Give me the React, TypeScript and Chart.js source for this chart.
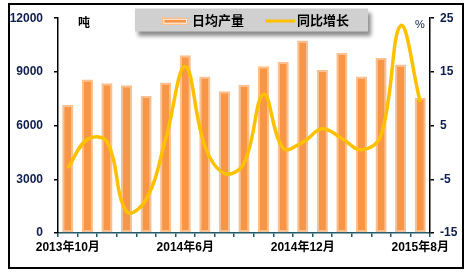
import React, { useEffect, useRef } from "react";
import { Chart, registerables } from "chart.js";

Chart.register(...registerables);

const months = [
  "2013年10月", "2013年11月", "2013年12月",
  "2014年3月", "2014年4月", "2014年5月", "2014年6月", "2014年7月", "2014年8月",
  "2014年9月", "2014年10月", "2014年11月", "2014年12月",
  "2015年3月", "2015年4月", "2015年5月", "2015年6月", "2015年7月", "2015年8月",
];
const dailyOutput = [7150, 8580, 8360, 8250, 7650, 8410, 9930, 8740, 7920, 8280, 9320, 9560, 10750, 9100, 10060, 8740, 9780, 9420, 7550];
const yoyGrowth = [-2.9, 2.4, 2.0, -11.0, -8.8, 2.5, 16.0, 1.2, -3.9, -2.0, 10.8, 0.8, 1.9, 4.4, 2.6, 0.5, 3.2, 23.6, 9.4];
const leftTicks = [0, 3000, 6000, 9000, 12000];
const rightTicks = [-15, -5, 5, 15, 25];
const labelEvery = 6;
const seriesNames = ["日均产量", "同比增长"];
const leftUnit = "吨";
const rightUnit = "%";

const FONT = "'Liberation Sans', Arial, 'Noto Sans CJK SC', sans-serif";
const ORANGE = "#F79646";
const PEACH = "#FAC090";
const GOLD = "#FFC000";
const NAVY = "#0F1E4A";
const TEAL = "#215968";

const decor = {
  id: "decor",
  beforeDraw(chart: any) {
    const ctx = chart.ctx;
    ctx.save();
    ctx.fillStyle = "#ffffff";
    ctx.fillRect(0, 0, chart.width, chart.height);
    ctx.restore();
  },
  afterDraw(chart: any) {
    const ctx = chart.ctx;
    ctx.save();
    // outer frame
    ctx.strokeStyle = "#000";
    ctx.lineWidth = 2;
    ctx.strokeRect(9, 4, 454, 264);
    // unit labels
    ctx.fillStyle = "#000";
    ctx.textBaseline = "middle";
    ctx.textAlign = "left";
    ctx.font = `bold 12px ${FONT}`;
    ctx.fillText(leftUnit, 78, 24);
    ctx.fillStyle = NAVY;
    ctx.font = `11px ${FONT}`;
    ctx.fillText(rightUnit, 415, 25);
    // legend box with shadow
    ctx.save();
    ctx.shadowColor = "rgba(0,0,0,0.45)";
    ctx.shadowBlur = 4;
    ctx.shadowOffsetX = 3;
    ctx.shadowOffsetY = 4;
    ctx.fillStyle = "#D0D0D0";
    ctx.fillRect(135, 8.5, 233, 23);
    ctx.restore();
    // item 1
    ctx.fillStyle = PEACH;
    ctx.fillRect(162, 17.5, 26.5, 7.5);
    ctx.fillStyle = "#ffffff";
    ctx.fillRect(163.5, 19, 23.5, 4.5);
    ctx.fillStyle = ORANGE;
    ctx.fillRect(164.3, 19.7, 21.9, 3);
    ctx.fillStyle = "#000";
    ctx.font = `bold 13px ${FONT}`;
    ctx.textBaseline = "middle";
    ctx.fillText(seriesNames[0], 192, 21.5);
    // item 2
    ctx.strokeStyle = GOLD;
    ctx.lineWidth = 3;
    ctx.beginPath();
    ctx.moveTo(265, 21);
    ctx.lineTo(295, 21);
    ctx.stroke();
    ctx.fillText(seriesNames[1], 297, 21.5);
    ctx.restore();
  },
};

export default function App() {
  const ref = useRef<HTMLCanvasElement | null>(null);
  useEffect(() => {
    document.body.style.margin = "0";
    const canvas = ref.current!;
    const tickFont = { family: FONT, size: 12, weight: "bold" as const };
    const chart = new Chart(canvas, {
      type: "bar",
      data: {
        labels: months,
        datasets: [
          {
            type: "line",
            label: seriesNames[1],
            data: yoyGrowth,
            yAxisID: "y1",
            borderColor: GOLD,
            borderWidth: 3.5,
            pointRadius: 0,
            tension: 0.4,
            fill: false,
            order: 0,
          } as any,
          {
            type: "bar",
            label: seriesNames[0],
            data: dailyOutput,
            yAxisID: "y",
            backgroundColor: ORANGE,
            borderColor: PEACH,
            borderWidth: 2,
            borderSkipped: false,
            categoryPercentage: 1,
            barPercentage: 0.57,
            order: 1,
          } as any,
        ],
      },
      options: {
        animation: false,
        responsive: false,
        devicePixelRatio: 1,
        layout: { padding: { top: 14, left: 0, right: 0, bottom: 0 } },
        plugins: { legend: { display: false }, tooltip: { enabled: false } },
        scales: {
          x: {
            type: "category",
            offset: true,
            grid: { display: true, drawOnChartArea: false, drawTicks: true, tickLength: 4, color: TEAL, offset: true, lineWidth: 1.5 },
            border: { display: true, color: TEAL, width: 1.5 },
            ticks: {
              autoSkip: false,
              maxRotation: 0,
              minRotation: 0,
              padding: 3,
              color: "#000",
              font: tickFont,
              callback: (_v: any, i: number) => (i % labelEvery === 0 ? months[i] : ""),
            },
            afterFit: (s: any) => { s.height = 41; },
          },
          y: {
            position: "left",
            min: leftTicks[0],
            max: leftTicks[leftTicks.length - 1],
            afterBuildTicks: (s: any) => { s.ticks = leftTicks.map((v) => ({ value: v })); },
            grid: { display: true, drawOnChartArea: false, drawTicks: true, tickLength: 4, color: "#000", lineWidth: 1.5 },
            border: { display: true, color: "#000", width: 1.5 },
            ticks: { padding: 11, color: NAVY, font: tickFont, callback: (v: any) => String(v) },
            afterFit: (s: any) => { s.width = 58; },
          },
          y1: {
            position: "right",
            min: rightTicks[0],
            max: rightTicks[rightTicks.length - 1],
            afterBuildTicks: (s: any) => { s.ticks = rightTicks.map((v) => ({ value: v })); },
            grid: { display: true, drawOnChartArea: false, drawTicks: true, tickLength: 4, color: "#000", lineWidth: 1.5 },
            border: { display: true, color: "#000", width: 1.5 },
            ticks: { padding: 6, color: NAVY, font: tickFont, callback: (v: any) => String(v) },
            afterFit: (s: any) => { s.width = 41; },
          },
        },
      },
      plugins: [decor],
    } as any);
    return () => chart.destroy();
  }, []);
  return (
    <div style={{ position: "fixed", left: 0, top: 0, width: 471, height: 274 }}>
      <canvas ref={ref} width={471} height={274} style={{ display: "block", width: 471, height: 274 }} />
    </div>
  );
}
